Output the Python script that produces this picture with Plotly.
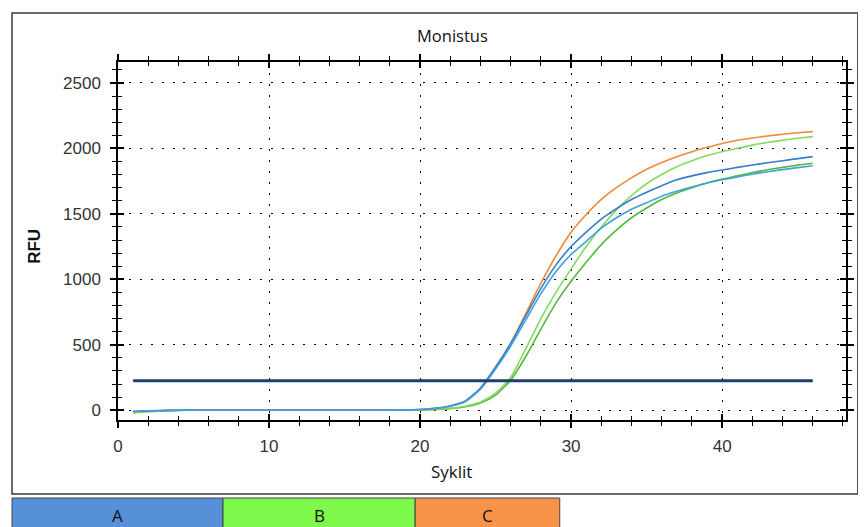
import plotly.graph_objects as go

cycles = list(range(1, 47))

blue_upper = [-10, -6, -3, 0, 0, 0, 0, 0, 0, 0, 0, 0, 0, 0, 0, 0, 0, 0, 1,
              5, 14, 32, 70, 170, 330, 510, 720, 930, 1110, 1250, 1360, 1460, 1540,
              1610, 1665, 1715, 1760, 1790, 1815, 1835, 1855, 1873, 1890, 1906, 1922, 1937]
blue_lower = [-8, -5, -2, 0, 0, 0, 0, 0, 0, 0, 0, 0, 0, 0, 0, 0, 0, 0, 1,
              5, 13, 30, 66, 160, 315, 490, 690, 890, 1060, 1190, 1290, 1390, 1470,
              1535, 1585, 1635, 1672, 1705, 1735, 1760, 1782, 1803, 1822, 1838, 1853, 1868]
green_upper = [-20, -12, -6, -2, 0, 0, 0, 0, 0, 0, 0, 0, 0, 0, 0, 0, 0, 0, 0,
               2, 6, 14, 30, 62, 130, 250, 470, 700, 900, 1080, 1250, 1400, 1530,
               1640, 1730, 1800, 1860, 1905, 1945, 1975, 2000, 2025, 2045, 2062, 2077, 2090]
green_lower = [-18, -10, -5, -2, 0, 0, 0, 0, 0, 0, 0, 0, 0, 0, 0, 0, 0, 0, 0,
               2, 5, 12, 26, 55, 115, 230, 410, 620, 820, 985, 1130, 1265, 1375,
               1470, 1545, 1610, 1660, 1700, 1735, 1765, 1790, 1815, 1837, 1855, 1872, 1886]
orange = [-12, -7, -3, 0, 0, 0, 0, 0, 0, 0, 0, 0, 0, 0, 0, 0, 0, 0, 1,
          5, 14, 32, 70, 168, 325, 510, 740, 970, 1180, 1360, 1495, 1610, 1700,
          1775, 1840, 1892, 1937, 1975, 2008, 2038, 2062, 2080, 2095, 2108, 2119, 2128]

threshold_value = 225
threshold_cycles = [1, 46]

x_ticks = [0, 10, 20, 30, 40]
y_ticks = [0, 500, 1000, 1500, 2000, 2500]
x_range = [0, 48.2]
y_range = [-75, 2660]

legend_labels = ["A", "B", "C"]
legend_colors = ["#5590d8", "#7ef84a", "#f7944a"]

title_text = "Monistus"
x_title = "Syklit"
y_title = "RFU"

fig = go.Figure()

series = [
    (green_lower, "#55b83e", "B"),
    (green_upper, "#86d860", "B"),
    (orange, "#ef8a3a", "C"),
    (blue_upper, "#3a7ccc", "A"),
    (blue_lower, "#3ea2dc", "A"),
]
for vals, col, name in series:
    fig.add_trace(go.Scatter(x=cycles, y=vals, mode="lines", name=name,
                             line=dict(color=col, width=1.6, shape="spline", smoothing=0.6),
                             showlegend=False, hoverinfo="skip"))

fig.add_trace(go.Scatter(x=threshold_cycles, y=[threshold_value] * 2, mode="lines",
                         line=dict(color="#1d3f6e", width=3), showlegend=False,
                         hoverinfo="skip"))

# dummy trace for overlay axes (inside ticks)
fig.add_trace(go.Scatter(x=[None], y=[None], xaxis="x2", yaxis="y2",
                         showlegend=False, hoverinfo="skip"))

tickfont = dict(family="Liberation Sans, Arial, sans-serif", size=17, color="#333333")
dotted = "2px,8.9px"

# the page adds an 8px body margin, so the figure is 8px smaller and margins shifted
fig.update_layout(
    width=858, height=519,
    margin=dict(l=110, r=13, t=54, b=107),
    paper_bgcolor="white", plot_bgcolor="white",
    xaxis=dict(range=x_range, tickvals=x_ticks, showgrid=True, gridcolor="#000000",
               griddash=dotted, gridwidth=1, zeroline=False,
               showline=True, linecolor="#000000", linewidth=1.5, mirror="ticks",
               ticks="outside", ticklen=6, tickwidth=1.5, tickcolor="#000000",
               minor=dict(dtick=2, ticks="outside", ticklen=4, tickwidth=1, tickcolor="#000000"),
               tickfont=tickfont, ticklabelstandoff=4),
    yaxis=dict(range=y_range, tickvals=y_ticks, showgrid=True, gridcolor="#000000",
               griddash=dotted, gridwidth=1, zeroline=False,
               showline=True, linecolor="#000000", linewidth=1.5, mirror="ticks",
               ticks="outside", ticklen=6, tickwidth=1.5, tickcolor="#000000",
               minor=dict(dtick=100, ticks="outside", ticklen=4, tickwidth=1, tickcolor="#000000"),
               tickfont=tickfont, ticklabelstandoff=6),
    xaxis2=dict(range=x_range, overlaying="x", anchor="y2", tickvals=x_ticks,
                showgrid=False, zeroline=False, showline=False, showticklabels=False,
                mirror="ticks", ticks="inside", ticklen=6, tickwidth=1.5, tickcolor="#000000",
                minor=dict(dtick=2, ticks="inside", ticklen=4, tickwidth=1, tickcolor="#000000")),
    yaxis2=dict(range=y_range, overlaying="y", anchor="x2", tickvals=y_ticks,
                showgrid=False, zeroline=False, showline=False, showticklabels=False,
                mirror="ticks", ticks="inside", ticklen=6, tickwidth=1.5, tickcolor="#000000",
                minor=dict(dtick=100, ticks="inside", ticklen=4, tickwidth=1, tickcolor="#000000")),
)

W, H = 735.0, 358.0
def px(x):
    return (x - 118) / W
def py(y):
    return (420 - y) / H

shapes = []
# outer frame
shapes.append(dict(type="rect", xref="paper", yref="paper",
                   x0=px(11), x1=px(865), y0=py(494), y1=py(13),
                   line=dict(color="#3a3a3a", width=1.5), layer="below"))
# legend boxes
edges = [11, 224, 418, 564]
for i, (lab, col) in enumerate(zip(legend_labels, legend_colors)):
    shapes.append(dict(type="rect", xref="paper", yref="paper",
                       x0=px(edges[i]), x1=px(edges[i + 1]), y0=py(540), y1=py(498),
                       fillcolor=col, line=dict(color="#444444", width=1), layer="below"))
fig.update_layout(shapes=shapes)

ann = [
    dict(text=title_text, x=px(456), y=py(35), font=dict(family="Open Sans, sans-serif", size=16.5, color="#111111")),
    dict(text=x_title, x=px(455), y=py(471), font=dict(family="Open Sans, sans-serif", size=17, color="#111111")),
    dict(text="<b>" + y_title + "</b>", x=px(33), y=py(246), textangle=-90,
         font=dict(family="Liberation Sans, Arial, sans-serif", size=17, color="#111111")),
]
centers = [(edges[i] + edges[i + 1]) / 2 for i in range(3)]
for lab, c in zip(legend_labels, centers):
    ann.append(dict(text=lab, x=px(c), y=py(515),
                    font=dict(family="Open Sans, sans-serif", size=17, color="#111111")))
for a in ann:
    a.update(xref="paper", yref="paper", showarrow=False, xanchor="center", yanchor="middle")
fig.update_layout(annotations=ann)

fig.write_html("out.html")
